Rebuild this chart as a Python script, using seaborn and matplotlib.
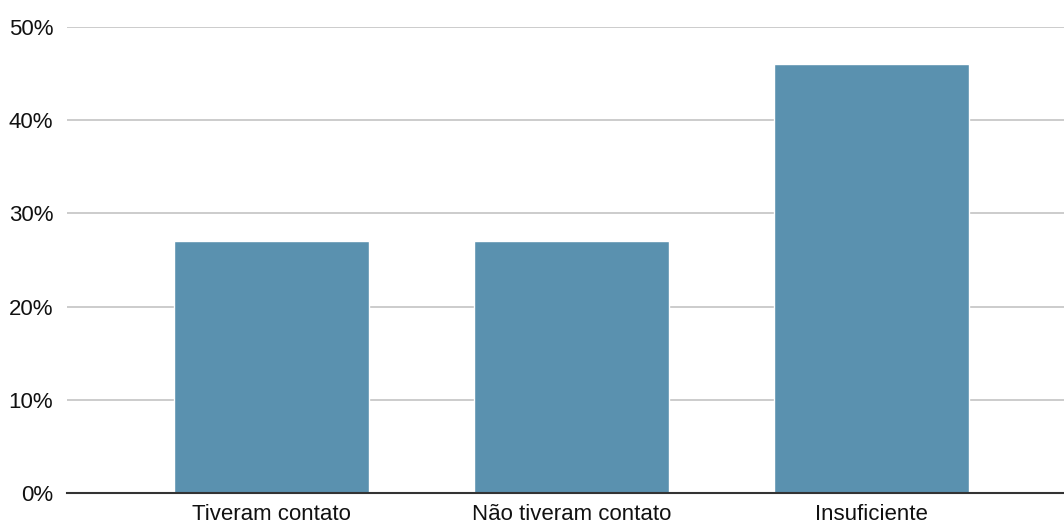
import matplotlib
matplotlib.use("Agg")
import matplotlib.pyplot as plt
from matplotlib.ticker import PercentFormatter
import seaborn as sns
import pandas as pd

categories = ["Tiveram contato", "Não tiveram contato", "Insuficiente"]
values = [0.27, 0.27, 0.46]
y_ticks = [0, 0.1, 0.2, 0.3, 0.4, 0.5]

sns.set_theme(style="white")
plt.rcParams['font.family'] = ['Liberation Sans', 'DejaVu Sans']

df = pd.DataFrame({"cat": categories, "val": values})

fig = plt.figure(figsize=(10.64, 5.28), dpi=100)
ax = fig.add_axes([67 / 1064, 1 - 493 / 528, 1 - 67 / 1064, (493 - 27) / 528])

sns.barplot(data=df, x="cat", y="val", color="#5A91AF", saturation=1,
            width=0.65, ax=ax, zorder=3)

ax.set_ylim(0, 0.5)
ax.set_xlim(-0.68, 2.64)
ax.set_yticks(y_ticks)
ax.yaxis.set_major_formatter(PercentFormatter(1.0, decimals=0))
ax.grid(axis="y", color="#cccccc", linewidth=1.4, zorder=0)
ax.set_axisbelow(True)

for s in ["top", "right", "left"]:
    ax.spines[s].set_visible(False)
ax.spines["bottom"].set_color("#333333")
ax.spines["bottom"].set_linewidth(1.5)
ax.spines["bottom"].set_zorder(4)

ax.tick_params(axis="y", length=0, pad=10, labelsize=16, labelcolor="#111111")
ax.tick_params(axis="x", length=0, pad=8, labelsize=16, labelcolor="#111111")
ax.set_xlabel("")
ax.set_ylabel("")

plt.savefig("out.png", dpi=100)
